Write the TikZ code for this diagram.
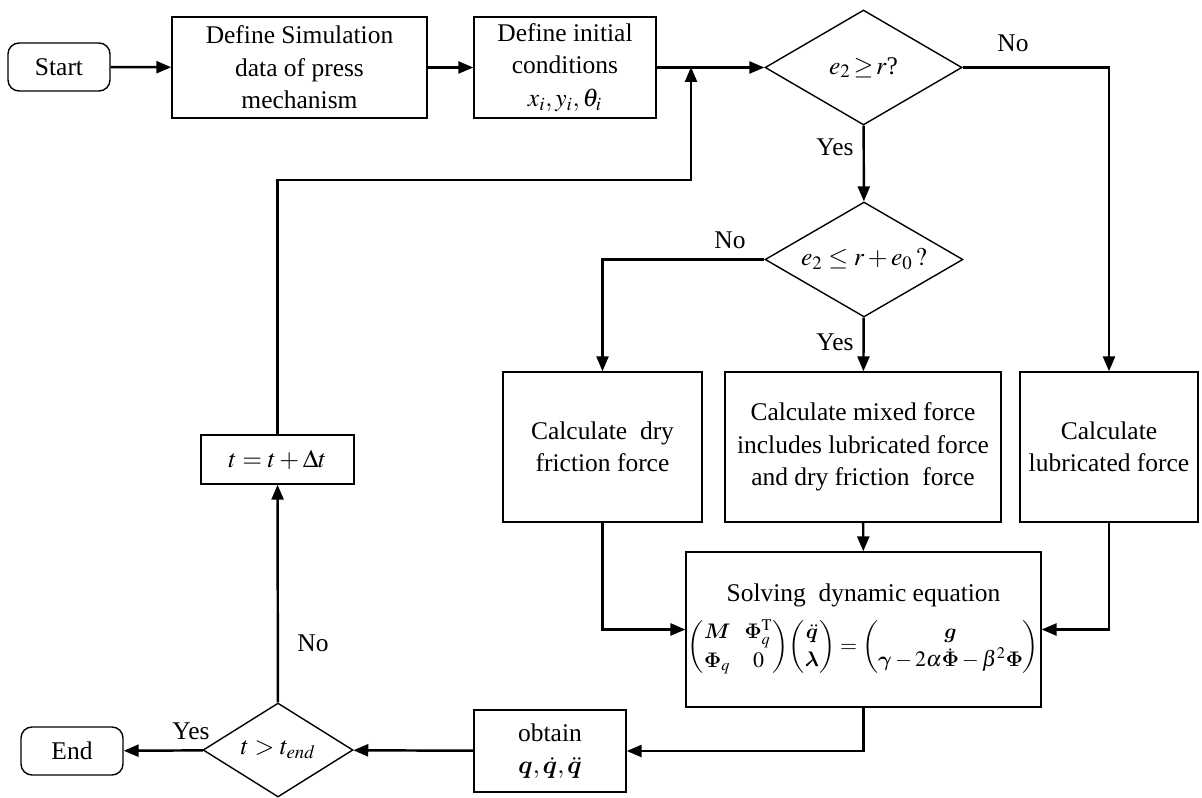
\documentclass[tikz,border=0pt]{standalone}
\usepackage{amsmath,bm}
\usepackage{mathptmx}
\usepackage{fontspec}
\setmainfont{Liberation Serif}
\usetikzlibrary{positioning,arrows.meta,shapes.geometric}

\begin{document}
\begin{tikzpicture}[
      x=0.02cm, y=-0.02cm,
      >={Triangle[length=0.3cm,width=0.24cm]},
      every node/.style={font=\fontsize{14.5}{18.5}\selectfont,inner sep=1pt},
      box/.style={draw,line width=0.8pt,rectangle,align=center},
      term/.style={draw,line width=0.8pt,rounded corners=0.22cm,minimum width=2.04cm,minimum height=0.96cm},
      dec/.style={draw,line width=0.8pt,diamond,inner sep=0pt,aspect=1.7},
      lbl/.style={draw=none,inner sep=0pt},
      flow/.style={->,line width=1.4pt},
    ]
    \useasboundingbox (0,0) rectangle (1202,797);

    % Top row
    \node[term] (start) at (59,67) {Start};
    \node[box,minimum width=5.1cm,minimum height=2.02cm] (sim) at (299.5,67.5)
      {Define Simulation\\data of press\\mechanism};
    \node[box,minimum width=3.64cm,minimum height=2.02cm] (init) at (565,67.5)
      {Define initial\\conditions\\$x_i,y_i,\theta_i$};
    \coordinate (jn) at (691,67);
    \node[dec,minimum width=3.94cm,minimum height=2.3cm] (d1) at (863.5,67.5) {$e_2\!\geq\! r$?};

    % Second decision
    \node[dec,minimum width=3.96cm,minimum height=2.3cm] (d2) at (864,259.5) {$e_2\leq r+e_0\,?$};

    % Force boxes
    \node[box,minimum width=3.98cm,minimum height=3cm] (dry) at (602.5,447)
      {Calculate~ dry\\friction force};
    \node[box,minimum width=5.52cm,minimum height=3cm] (mixed) at (863,447)
      {Calculate mixed force\\includes lubricated force\\and dry friction~ force};
    \node[box,minimum width=3.56cm,minimum height=3cm] (lub) at (1109,447)
      {Calculate\\lubricated force};

    % Dynamic equation
    \node[box,minimum width=7.06cm,minimum height=3.1cm] (solve) at (863.5,629.5)
      {Solving~ dynamic equation\\[6pt]
       {\fontsize{12.5}{16}\selectfont\arraycolsep=4pt
       $\begin{pmatrix}\bm{M} & \bm{\Phi}_q^{\mathrm{T}}\\ \bm{\Phi}_q & 0\end{pmatrix}
        \!\begin{pmatrix}\ddot{\bm{q}}\\ \bm{\lambda}\end{pmatrix}
        =\begin{pmatrix}\bm{g}\\ \bm{\gamma}-2\alpha\dot{\bm{\Phi}}-\beta^2\bm{\Phi}\end{pmatrix}$}};

    % Bottom row
    \node[box,minimum width=3.04cm,minimum height=1.64cm] (obtain) at (550,751)
      {obtain\\$\bm{q},\dot{\bm{q}},\ddot{\bm{q}}$};
    \node[dec,minimum width=3cm,minimum height=1.88cm] (d3) at (278,750) {$t>t_{\mathit{end}}$};
    \node[term] (endn) at (72,751) {End};
    \node[box,minimum width=3.06cm,minimum height=0.98cm] (upd) at (277.5,459.5) {$t=t+\Delta t$};
    \coordinate (lp) at (691,180);

    % Connectors
    \draw[flow] (start) -- (sim);
    \draw[flow] (sim) -- (init);
    \draw[flow] (init) -- (d1);
    \draw[flow] (d1) -- (d2);
    \draw[flow] (d1.east) -| (lub.north);
    \draw[flow] (d2.west) -| (dry.north);
    \draw[flow] (d2) -- (mixed);
    \draw[flow] (mixed) -- (solve);
    \draw[flow] (dry.south) |- (solve.west);
    \draw[flow] (lub.south) |- (solve.east);
    \draw[flow] (solve.south) |- (obtain.east);
    \draw[flow] (obtain) -- (d3);
    \draw[flow] (d3) -- (endn);
    \draw[flow] (d3) -- (upd);
    \draw[flow] (upd.north) |- (lp) -- (jn);

    % Branch labels
    \node[lbl] (no1) at (1013,43) {No};
    \node[lbl] (yes1) at (835,147) {Yes};
    \node[lbl] (no2) at (730,240) {No};
    \node[lbl] (yes2) at (835,342) {Yes};
    \node[lbl] (no3) at (313,643) {No};
    \node[lbl] (yes3) at (191,731) {Yes};
  \end{tikzpicture}
\end{document}
